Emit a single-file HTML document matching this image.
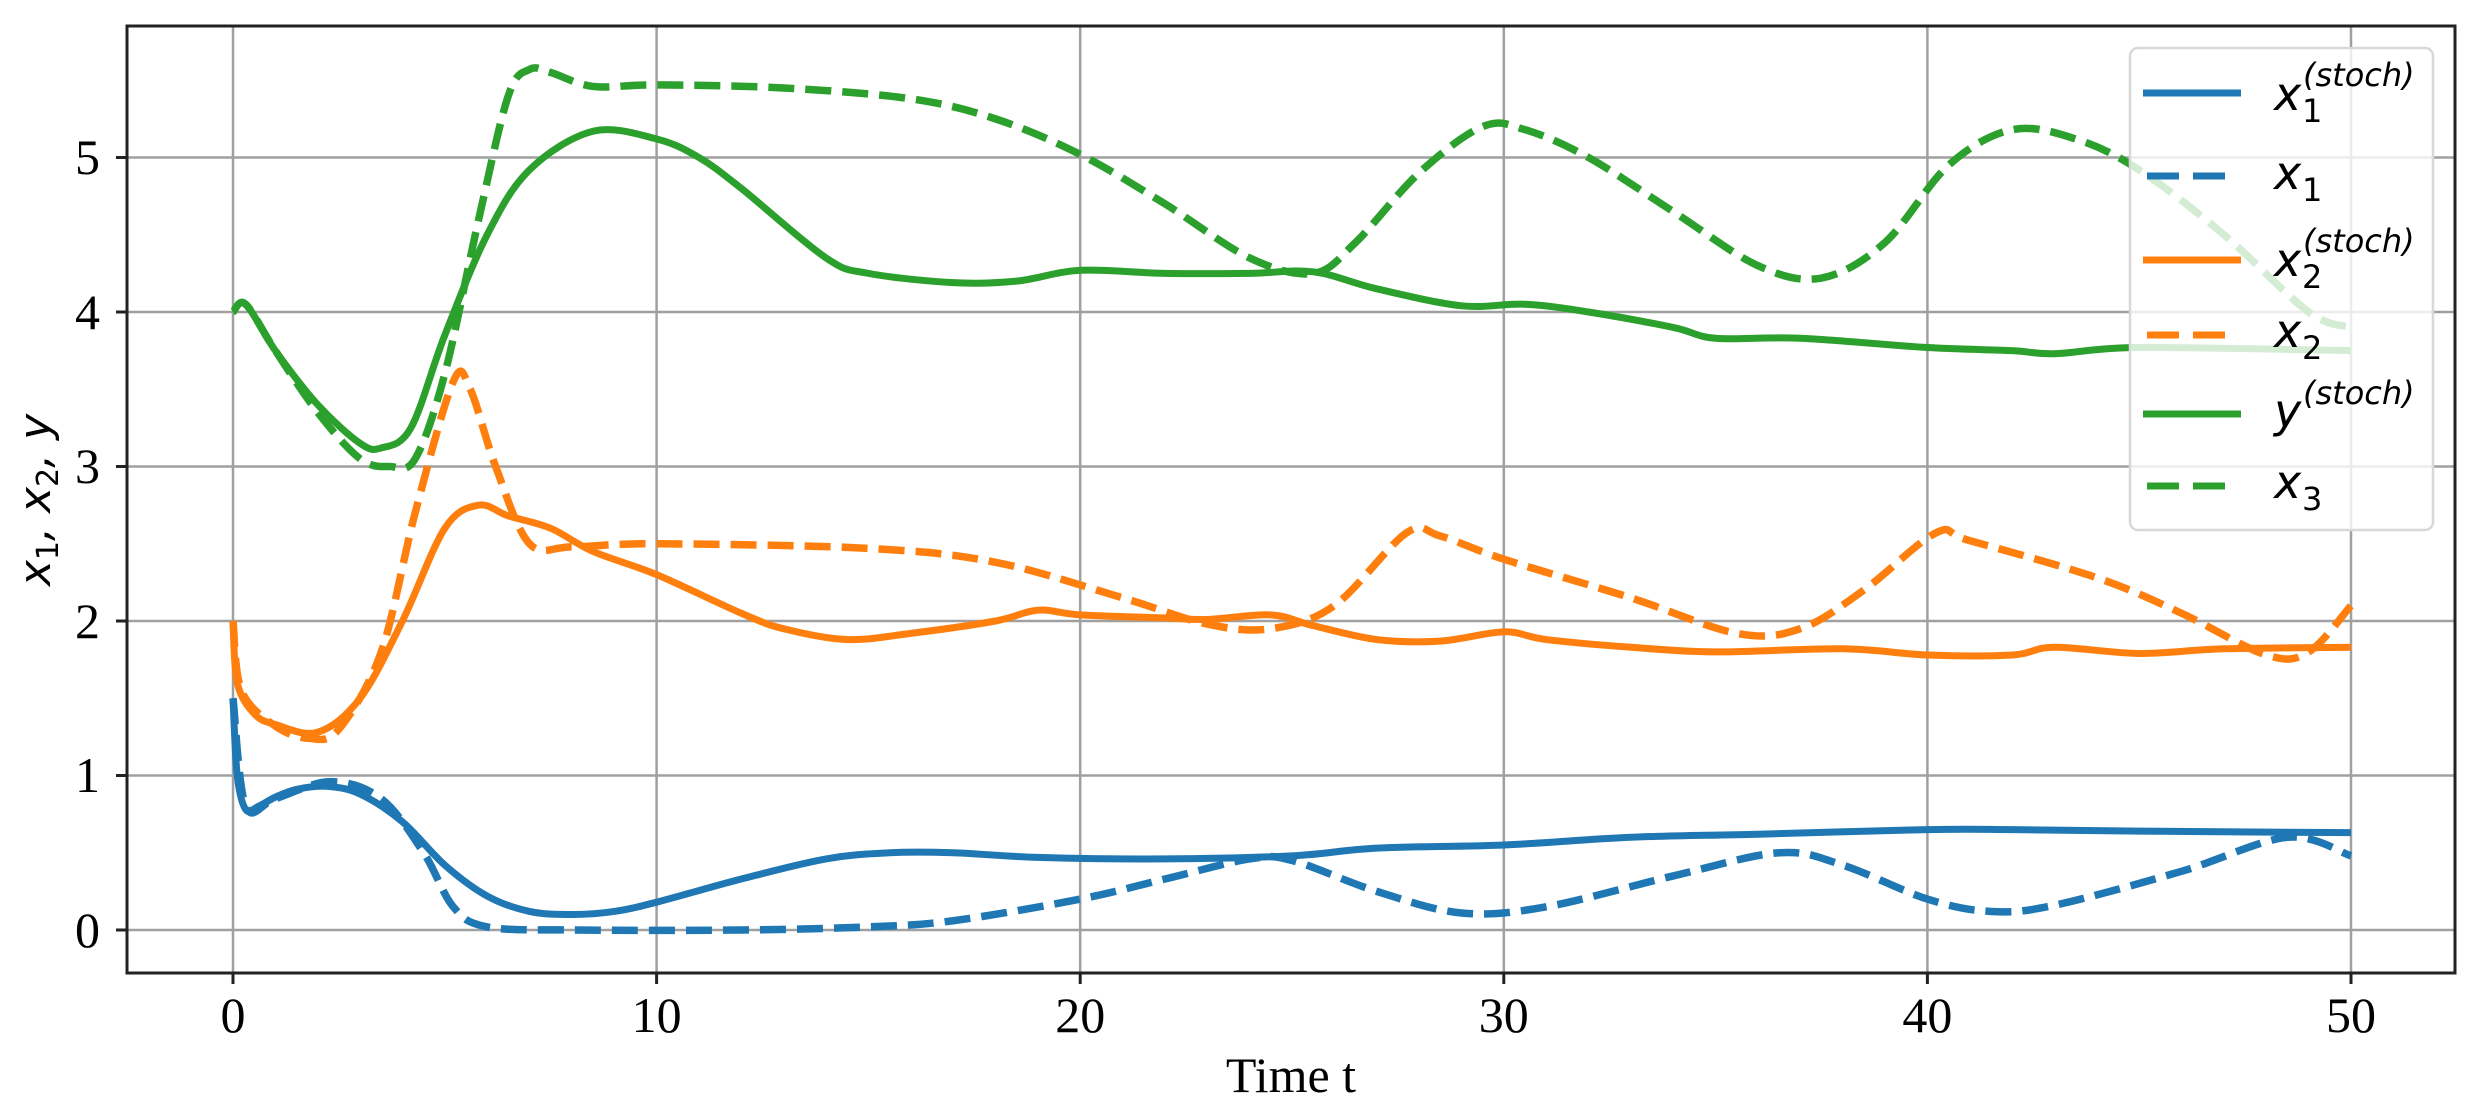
<!DOCTYPE html>
<html><head><meta charset="utf-8"><style>
html,body{margin:0;padding:0;background:#fff;}
svg{display:block;}
.tk{font-family:"Liberation Serif",serif;font-size:50px;fill:#000;}
.m{font-family:"DejaVu Sans",sans-serif;font-style:italic;}
</style></head><body>
<svg id="s" width="2484" height="1113" viewBox="0 0 2484 1113" xmlns="http://www.w3.org/2000/svg">
<rect width="2484" height="1113" fill="#fff"/>
<g stroke="#a0a0a0" stroke-width="2.5">
<line x1="233" y1="26" x2="233" y2="973"/><line x1="656.6" y1="26" x2="656.6" y2="973"/><line x1="1080.2" y1="26" x2="1080.2" y2="973"/><line x1="1503.8" y1="26" x2="1503.8" y2="973"/><line x1="1927.4" y1="26" x2="1927.4" y2="973"/><line x1="2351" y1="26" x2="2351" y2="973"/>
<line x1="127" y1="930" x2="2455" y2="930"/><line x1="127" y1="775.5" x2="2455" y2="775.5"/><line x1="127" y1="621" x2="2455" y2="621"/><line x1="127" y1="466.5" x2="2455" y2="466.5"/><line x1="127" y1="312" x2="2455" y2="312"/><line x1="127" y1="157.5" x2="2455" y2="157.5"/>
</g>
<g id="lines" fill="none" stroke-linejoin="round" stroke-linecap="butt">
<polyline class="d" stroke="#1f77b4" stroke-width="7" data-p="0,1.5 0.1,1.0 0.3,0.78 0.6,0.8 1,0.86 1.5,0.91 2.2,0.93 3,0.88 4,0.7 5,0.42 6,0.22 7,0.12 8,0.1 9,0.12 10,0.18 12,0.33 14,0.46 15.5,0.5 17,0.5 19,0.47 22,0.46 25,0.48 27,0.53 30,0.55 33,0.6 36,0.62 40,0.65 42,0.65 45,0.64 50,0.63"/>
<polyline class="d" stroke="#1f77b4" stroke-width="7.5" stroke-dasharray="26,11" data-p="0,1.5 0.3,0.8 1,0.85 2.3,0.96 3.5,0.85 4.5,0.5 5.2,0.15 6,0.02 8,0 12,0 15,0.02 17,0.06 20,0.2 22,0.33 24,0.46 25,0.45 27,0.25 29,0.11 31,0.15 34,0.35 36.5,0.5 38,0.42 40,0.2 41.5,0.12 43,0.16 46,0.38 48.5,0.6 50,0.48"/>
<polyline class="d" stroke="#ff7f0e" stroke-width="7" data-p="0,2.0 0.1,1.6 0.5,1.4 1,1.33 2,1.28 3,1.5 4,2.0 5,2.6 5.8,2.75 6.5,2.68 7.5,2.6 8.5,2.45 10,2.3 12,2.05 13,1.95 14.5,1.88 16,1.92 18,2.0 19,2.07 20,2.04 22,2.02 23,2.01 24.5,2.04 25.5,1.97 27,1.88 28.5,1.87 30,1.93 31,1.88 33,1.83 35,1.8 38,1.82 40,1.78 42,1.78 43,1.83 45,1.79 47,1.82 50,1.83"/>
<polyline class="d" stroke="#ff7f0e" stroke-width="7.5" stroke-dasharray="26,11" data-p="0,2.0 0.2,1.55 1,1.32 1.8,1.24 2.5,1.3 3.5,1.8 4.3,2.7 5.2,3.55 5.6,3.5 6.2,3.0 7,2.5 8,2.48 10,2.5 15,2.47 18,2.38 21,2.15 23,1.98 24.5,1.95 26,2.1 27.7,2.57 28.5,2.55 30,2.4 33,2.15 35.5,1.92 37,1.95 38.5,2.2 40.2,2.57 41,2.52 44,2.28 46,2.05 48,1.78 49,1.8 50,2.1"/>
<polyline class="d" stroke="#2ca02c" stroke-width="7" data-p="0,4.0 0.3,4.05 1,3.75 2,3.4 3,3.15 3.5,3.12 4.2,3.25 5,3.85 6,4.5 7,4.92 8.5,5.17 10,5.12 11,5.0 12,4.8 14,4.35 15,4.25 17,4.19 18.5,4.2 20,4.27 22,4.25 24,4.25 25.5,4.26 27,4.15 29,4.04 30.5,4.05 32,4.0 34,3.9 35,3.83 37,3.83 40,3.77 42,3.75 43,3.73 45,3.77 50,3.75"/>
<polyline class="d" stroke="#2ca02c" stroke-width="7.5" stroke-dasharray="26,11" data-p="0,4.0 0.3,4.05 1,3.75 2,3.35 3,3.05 3.7,3.0 4.3,3.05 5,3.6 5.8,4.6 6.5,5.4 7,5.57 7.5,5.55 8.5,5.46 10,5.47 13,5.45 16,5.38 18,5.25 20,5.02 22,4.7 24,4.35 25.5,4.25 26.5,4.45 28,4.9 29.5,5.2 30.5,5.18 32,5.0 34,4.65 36,4.3 37.5,4.22 39,4.45 40.5,4.95 42,5.18 43.5,5.12 45,4.92 47,4.5 49,4.0 50,3.9"/>
</g>
<rect x="127" y="26" width="2328" height="947" fill="none" stroke="#222" stroke-width="3"/>
<g stroke="#222" stroke-width="3">
<line x1="233" y1="973" x2="233" y2="984"/><line x1="656.6" y1="973" x2="656.6" y2="984"/><line x1="1080.2" y1="973" x2="1080.2" y2="984"/><line x1="1503.8" y1="973" x2="1503.8" y2="984"/><line x1="1927.4" y1="973" x2="1927.4" y2="984"/><line x1="2351" y1="973" x2="2351" y2="984"/>
<line x1="116" y1="930" x2="127" y2="930"/><line x1="116" y1="775.5" x2="127" y2="775.5"/><line x1="116" y1="621" x2="127" y2="621"/><line x1="116" y1="466.5" x2="127" y2="466.5"/><line x1="116" y1="312" x2="127" y2="312"/><line x1="116" y1="157.5" x2="127" y2="157.5"/>
</g>
<g class="tk" text-anchor="middle">
<text x="233" y="1032">0</text><text x="656.6" y="1032">10</text><text x="1080.2" y="1032">20</text><text x="1503.8" y="1032">30</text><text x="1927.4" y="1032">40</text><text x="2351" y="1032">50</text>
</g>
<g class="tk" text-anchor="end">
<text x="100" y="947">0</text><text x="100" y="792">1</text><text x="100" y="638">2</text><text x="100" y="483">3</text><text x="100" y="329">4</text><text x="100" y="174">5</text>
</g>
<text class="tk" x="1291" y="1092" text-anchor="middle">Time t</text>
<text class="m" font-size="44" transform="translate(50,500) rotate(-90)" text-anchor="middle">x<tspan font-size="30" dy="8" font-style="normal">1</tspan><tspan dy="-8">, x</tspan><tspan font-size="30" dy="8" font-style="normal">2</tspan><tspan dy="-8">, y</tspan></text>
<rect x="2130" y="48" width="303" height="482" rx="8" fill="#fff" fill-opacity="0.8" stroke="#d8d8d8" stroke-width="2.5"/>
<g stroke-width="7">
<line x1="2143" y1="93" x2="2241" y2="93" stroke="#1f77b4"/>
<line x1="2147" y1="176" x2="2226" y2="176" stroke="#1f77b4" stroke-dasharray="32,14"/>
<line x1="2143" y1="260" x2="2241" y2="260" stroke="#ff7f0e"/>
<line x1="2147" y1="335" x2="2226" y2="335" stroke="#ff7f0e" stroke-dasharray="32,14"/>
<line x1="2143" y1="414" x2="2241" y2="414" stroke="#2ca02c"/>
<line x1="2147" y1="486" x2="2226" y2="486" stroke="#2ca02c" stroke-dasharray="32,14"/>
</g>
<g class="m" font-size="46" fill="#000">
<text x="2274" y="110">x</text><text x="2303" y="86" font-size="32">(stoch)</text><text x="2302" y="122" font-size="32" font-style="normal">1</text>
<text x="2274" y="189">x</text><text x="2302" y="201" font-size="32" font-style="normal">1</text>
<text x="2274" y="276">x</text><text x="2303" y="252" font-size="32">(stoch)</text><text x="2302" y="288" font-size="32" font-style="normal">2</text>
<text x="2274" y="347">x</text><text x="2302" y="359" font-size="32" font-style="normal">2</text>
<text x="2274" y="427">y</text><text x="2303" y="404" font-size="32">(stoch)</text>
<text x="2274" y="498">x</text><text x="2302" y="510" font-size="32" font-style="normal">3</text>
</g>
</svg>
<script>
(function(){
var X=function(t){return 233+42.36*t;},Y=function(v){return 930-154.5*v;};
var ns="http://www.w3.org/2000/svg";
document.querySelectorAll("polyline.d").forEach(function(pl){
 var pts=pl.getAttribute("data-p").trim().split(/\s+/).map(function(s){var a=s.split(",");return [X(+a[0]),Y(+a[1])];});
 pl.setAttribute("points",pts.map(function(p){return p[0]+","+p[1];}).join(" "));
 var d="M"+pts[0][0]+","+pts[0][1];
 for(var i=0;i<pts.length-1;i++){
  var p0=pts[Math.max(0,i-1)],p1=pts[i],p2=pts[i+1],p3=pts[Math.min(pts.length-1,i+2)];
  var c1=[p1[0]+(p2[0]-p0[0])/6,p1[1]+(p2[1]-p0[1])/6],c2=[p2[0]-(p3[0]-p1[0])/6,p2[1]-(p3[1]-p1[1])/6];
  d+="C"+c1[0]+","+c1[1]+" "+c2[0]+","+c2[1]+" "+p2[0]+","+p2[1];
 }
 var path=document.createElementNS(ns,"path");
 ["stroke","stroke-width","stroke-dasharray"].forEach(function(a){if(pl.getAttribute(a))path.setAttribute(a,pl.getAttribute(a));});
 path.setAttribute("d",d);
 pl.parentNode.replaceChild(path,pl);
});
})();
</script>
</body></html>
